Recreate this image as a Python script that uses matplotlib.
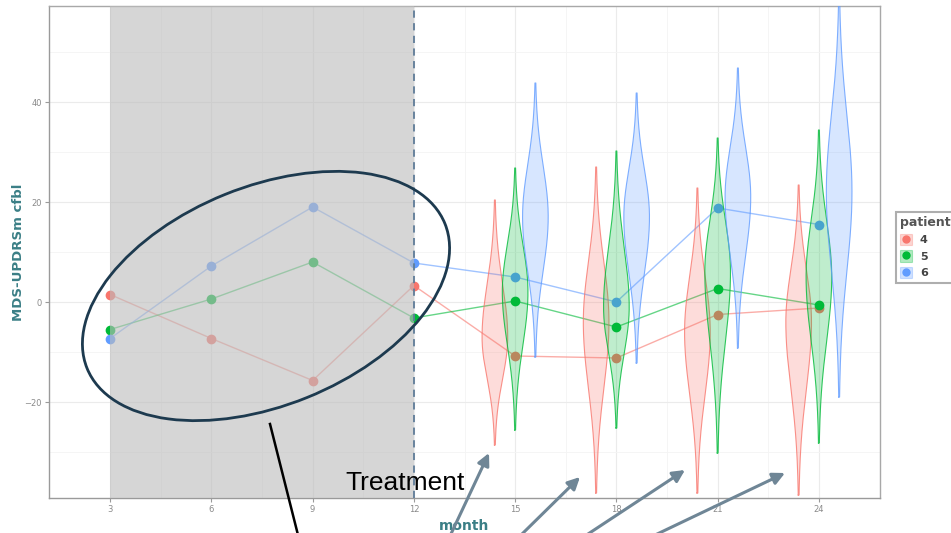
"""MDS-UPDRSm change from baseline per patient, with treatment-period violins."""

import numpy as np
import matplotlib
matplotlib.use('Agg')
import matplotlib.pyplot as plt
from matplotlib.patches import Ellipse, Patch
from matplotlib.lines import Line2D
from matplotlib.legend_handler import HandlerTuple

# observed scores per visit
months = [3, 6, 9, 12, 15, 18, 21, 24]
patients = ['4', '5', '6']
p4 = [1.5, -7.3, -15.7, 3.3, -10.8, -11.2, -2.5, -1.2]
p5 = [-5.5, 0.6, 8.0, -3.2, 0.2, -5.0, 2.7, -0.6]
p6 = [-7.3, 7.2, 19.0, 7.8, 5.0, 0.0, 18.8, 15.5]

# predicted distributions during treatment (min, max, mode)
violin_months = [15, 18, 21, 24]
p4_lo = [-28.6, -38.2, -38.2, -38.6]
p4_hi = [20.4, 27.0, 22.8, 23.4]
p4_mode = [-7.0, -4.0, -6.0, -4.0]
p5_lo = [-25.6, -25.2, -30.2, -28.2]
p5_hi = [26.8, 30.2, 32.8, 34.4]
p5_mode = [2.0, -1.0, 6.0, 5.0]
p6_lo = [-11.0, -12.2, -9.2, -19.0]
p6_hi = [43.8, 41.8, 46.8, 62.0]
p6_mode = [17.0, 17.0, 21.0, 22.0]

colours = ['#F8766D', '#00BA38', '#619CFF']
label_col = '#3b7f86'


def violin(ax, x, lo, hi, mode, colour, half=0.38):
    y = np.linspace(lo, hi, 200)
    s_up = (hi - mode) / 2.6
    s_dn = (mode - lo) / 2.6
    s = np.where(y >= mode, s_up, s_dn)
    w = half * np.exp(-0.5 * ((y - mode) / s) ** 2)
    ax.fill_betweenx(y, x - w, x + w, facecolor=colour, alpha=0.25,
                     edgecolor='none', zorder=4)
    ax.plot(np.r_[x - w, (x + w)[::-1], x - w[0]],
            np.r_[y, y[::-1], y[0]], color=colour, lw=0.8, alpha=0.8, zorder=4)


fig = plt.figure(figsize=(9.51, 5.33), dpi=100)
ax = fig.add_axes([49 / 951, 35 / 533, 831 / 951, 492 / 533])

series = [p4, p5, p6]
los = [p4_lo, p5_lo, p6_lo]
his = [p4_hi, p5_hi, p6_hi]
modes = [p4_mode, p5_mode, p6_mode]
offsets = [-0.6, 0.0, 0.6]

for vals, c in zip(series, colours):
    ax.plot(months, vals, color=c, lw=1.0, alpha=0.6, zorder=2)
    ax.plot(months, vals, 'o', color=c, ms=6, zorder=3)

for k, c in enumerate(colours):
    for j, m in enumerate(violin_months):
        violin(ax, m + offsets[k], los[k][j], his[k][j], modes[k][j], c)

# pre-treatment period
ax.axvspan(3, 12, color='#bdbdbd', alpha=0.62, lw=0, zorder=5)
ax.axvline(12, color='#5f7c98', lw=1.3, ls=(0, (4, 3)), zorder=6)

ax.set_xlim(1.19, 25.81)
ax.set_ylim(-39.2, 59.2)
ax.set_xticks(months)
ax.set_yticks([-20, 0, 20, 40])
ax.set_xticks([4.5, 7.5, 10.5, 13.5, 16.5, 19.5, 22.5], minor=True)
ax.set_yticks([-30, -10, 10, 30, 50], minor=True)
ax.grid(which='major', color='#ebebeb', lw=0.8, zorder=0)
ax.grid(which='minor', color='#f4f4f4', lw=0.6, zorder=0)
ax.set_axisbelow(True)
ax.tick_params(which='major', length=3, color='#9a9a9a', labelsize=6,
               labelcolor='#8a8a8a', pad=2)
ax.tick_params(which='minor', length=0)
for sp in ax.spines.values():
    sp.set_color('#a8a8a8')
    sp.set_linewidth(1.0)
ax.spines['left'].set_color('#9a9a9a')
ax.spines['bottom'].set_color('#9a9a9a')

fig.text(19 / 951, 1 - 252 / 533, 'MDS-UPDRSm cfbl', rotation=90, ha='center',
         va='center', fontsize=9.5, fontweight='bold', color=label_col)
fig.text(464 / 951, 1 - 526 / 533, 'month', ha='center', va='center',
         fontsize=10, fontweight='bold', color=label_col)

# legend
handles = []
for c in colours:
    handles.append((Patch(facecolor=c, alpha=0.3, edgecolor=c, lw=0.8),
                    Line2D([], [], marker='o', ls='', color=c, ms=5)))
leg = fig.legend(handles, patients, title='patient', loc='upper left',
                 bbox_to_anchor=(890 / 951, 1 - 206 / 533),
                 handler_map={tuple: HandlerTuple(ndivide=1, pad=0)},
                 fontsize=8, title_fontsize=9, frameon=True, fancybox=False,
                 handlelength=1.1, handleheight=1.2, handletextpad=0.7,
                 labelspacing=0.45, borderpad=0.4, alignment='left')
leg.get_title().set_fontweight('bold')
leg.get_title().set_color('#555555')
for t in leg.get_texts():
    t.set_color('#444444')
    t.set_fontweight('bold')
leg.get_frame().set_edgecolor('#9a9a9a')
leg.get_frame().set_linewidth(1.5)

# annotation overlay in pixel space
ov = fig.add_axes([0, 0, 1, 1], zorder=10)
ov.set_xlim(0, 951)
ov.set_ylim(533, 0)
ov.axis('off')
ov.patch.set_alpha(0)

ov.add_patch(Ellipse((266, 296), 386, 219, angle=-22, fill=False,
                     edgecolor='#1d3a4f', lw=2))
ov.plot([270, 298], [424, 535], color='black', lw=1.8)
ov.text(345, 490, 'Treatment', fontsize=19, family='Liberation Sans',
        ha='left', va='baseline', color='black')

arrow_starts = [(450, 536), (520, 536), (585, 536), (653, 536)]
arrow_tips = [(489, 453), (580, 477), (685, 470), (785, 473)]
for s, t in zip(arrow_starts, arrow_tips):
    ov.annotate('', xy=t, xytext=s,
                arrowprops=dict(arrowstyle='-|>', color='#6f8696', lw=2.2,
                                mutation_scale=18, shrinkA=0, shrinkB=0))

fig.savefig('out.png', dpi=100)
